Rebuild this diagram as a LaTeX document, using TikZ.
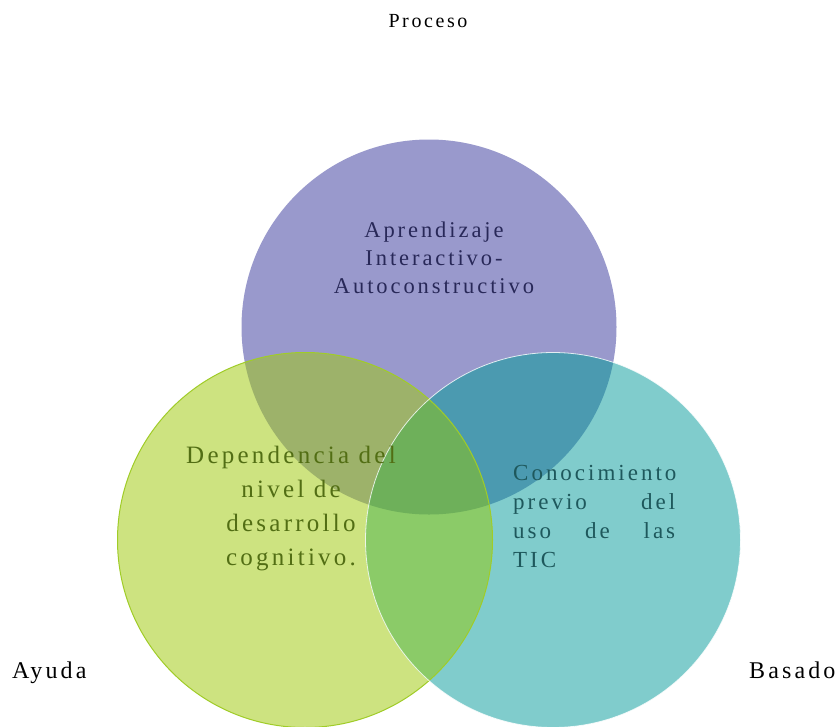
\documentclass[tikz,border=0pt]{standalone}
\usepackage{fontspec}
\setmainfont{Liberation Serif}
\newfontfamily\spacedserif[LetterSpace=13]{Liberation Serif}

% region colours of the three-set diagram
\definecolor{cPurple}{RGB}{153,153,204}
\definecolor{cGreen}{RGB}{205,227,128}
\definecolor{cTeal}{RGB}{128,204,204}
\definecolor{cPG}{RGB}{157,178,106}
\definecolor{cPT}{RGB}{75,154,176}
\definecolor{cGT}{RGB}{139,203,104}
\definecolor{cPGT}{RGB}{110,176,90}
\definecolor{cGreenEdge}{RGB}{160,204,40}
\definecolor{txtPurple}{RGB}{40,40,88}
\definecolor{txtGreen}{RGB}{82,110,20}
\definecolor{txtTeal}{RGB}{30,88,92}

\tikzset{
  lbl/.style={inner sep=0pt, anchor=base, font=\spacedserif\fontsize{#1}{#1}\selectfont},
  lbl/.default=22
}

\begin{document}
\begin{tikzpicture}[x=1pt,y=-1pt]
\useasboundingbox[fill=white] (0,0) rectangle (840,726);
\clip (0,0) rectangle (840,726);

\coordinate (P) at (429,327);
\coordinate (G) at (305,540);
\coordinate (T) at (553,540);
\def\rad{187.5pt}

% single-set areas
\fill[cPurple] (P) circle[radius=\rad];
\fill[cGreen]  (G) circle[radius=\rad];
\fill[cTeal]   (T) circle[radius=\rad];

% pairwise overlaps
\begin{scope}
  \clip (P) circle[radius=\rad];
  \fill[cPG] (G) circle[radius=\rad];
  \fill[cPT] (T) circle[radius=\rad];
\end{scope}
\begin{scope}
  \clip (G) circle[radius=\rad];
  \fill[cGT] (T) circle[radius=\rad];
\end{scope}

% centre where all three meet
\begin{scope}
  \clip (P) circle[radius=\rad];
  \clip (G) circle[radius=\rad];
  \fill[cPGT] (T) circle[radius=\rad];
\end{scope}

% outlines
\draw[cGreenEdge, line width=1pt] (G) circle[radius=\rad];
\draw[white, line width=0.8pt, opacity=0.8] (T) circle[radius=\rad];

% outer labels
\node[lbl=20] (proceso) at (428,27) {Proceso};
\node[lbl=24, anchor=base west] (ayuda) at (12,678) {Ayuda};
\node[lbl=24, anchor=base west] (basado) at (749,678) {Basado};

% top circle text
\node[lbl=22.5, text=txtPurple] (a1) at (434,237) {Aprendizaje};
\node[lbl=22.5, text=txtPurple] (a2) at (434,265) {Interactivo-};
\node[lbl=22.5, text=txtPurple] (a3) at (434,293) {Autoconstructivo};

% left circle text
\node[lbl=25, text=txtGreen] (d1) at (291,463) {Dependencia del};
\node[lbl=25, text=txtGreen] (d2) at (291,497) {nivel de};
\node[lbl=25, text=txtGreen] (d3) at (291,531) {desarrollo};
\node[lbl=25, text=txtGreen] (d4) at (291,565) {cognitivo.};

% right circle text, justified to one width
\def\jw{162pt}
\node[lbl=23, text=txtTeal, anchor=base west] (c1) at (513,480) {\hbox to \jw{Conocimiento\hfill}};
\node[lbl=23, text=txtTeal, anchor=base west] (c2) at (513,509) {\hbox to \jw{previo\hfill del}};
\node[lbl=23, text=txtTeal, anchor=base west] (c3) at (513,538) {\hbox to \jw{uso\hfill de\hfill las}};
\node[lbl=23, text=txtTeal, anchor=base west] (c4) at (513,567) {\hbox to \jw{TIC\hfill}};
\end{tikzpicture}
\end{document}
